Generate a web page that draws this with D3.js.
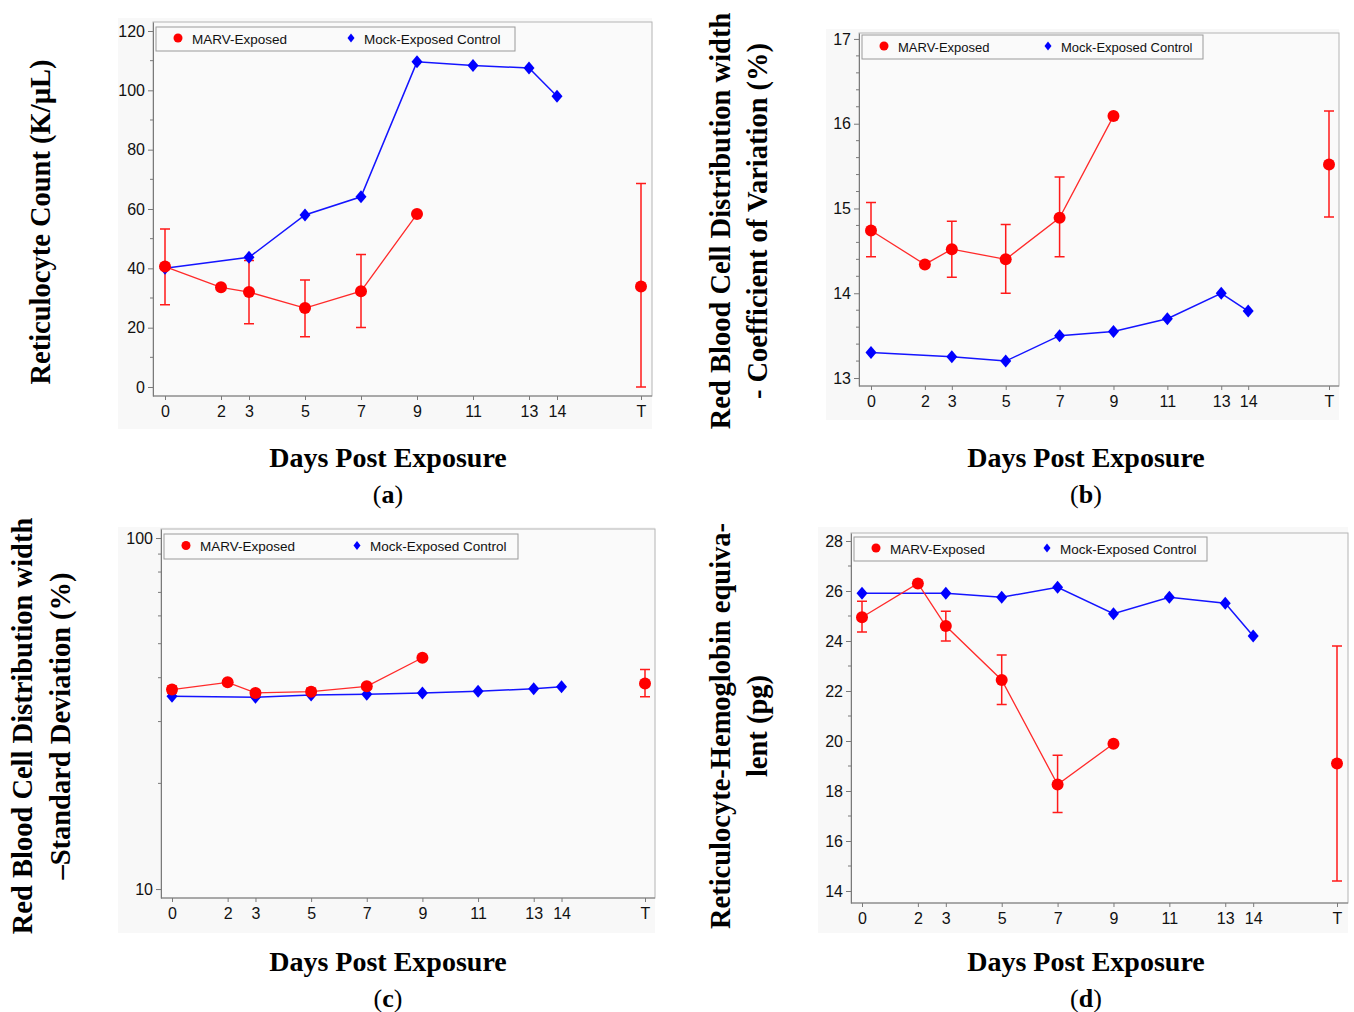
<!DOCTYPE html>
<html>
<head>
    <meta charset='utf-8'>
    <title>Reticulocyte and RDW panels</title>
    <style>
        body { margin: 0; background: #fff; }
        svg { display: block; }
    </style>
</head>
<body>
<svg width="1354" height="1012"></svg>
<script src="https://d3js.org/d3.v7.min.js"></script>
<script>
    // days on the x axis; "T" (terminal) sits at day 17
    const marvDays = [0, 2, 3, 5, 7, 9]
    const mockDays = [0, 3, 5, 7, 9, 11, 13, 14]
    const terminalDay = 17
    const xTickVals = [0, 2, 3, 5, 7, 9, 11, 13, 14, 17]
    const xTickText = ["0", "2", "3", "5", "7", "9", "11", "13", "14", "T"]
    const seriesNames = ["MARV-Exposed", "Mock-Exposed Control"]

    // (a) reticulocyte count
    const retMarv = [40.6, 33.6, 32.0, 26.6, 32.3, 58.3]
    const retMarvLo = [27.7, null, 21.3, 16.9, 20.1, null]
    const retMarvHi = [53.3, null, 42.6, 36.1, 44.7, null]
    const retTerm = [33.9, 0, 68.6]
    const retMock = [40.0, 43.7, 58.0, 64.1, 109.6, 108.4, 107.5, 98.0]

    // (b) RDW - coefficient of variation
    const cvMarv = [14.74, 14.34, 14.52, 14.40, 14.89, 16.09]
    const cvMarvLo = [14.43, null, 14.19, 14.00, 14.43, null]
    const cvMarvHi = [15.07, null, 14.85, 14.81, 15.37, null]
    const cvTerm = [15.52, 14.90, 16.15]
    const cvMock = [13.30, 13.25, 13.20, 13.50, 13.55, 13.70, 14.00, 13.79]

    // (c) RDW - standard deviation (log axis)
    const sdMarv = [37.0, 38.8, 36.2, 36.5, 37.8, 45.6]
    const sdMarvLo = [36.2, null, 35.6, 35.7, 37.2, null]
    const sdMarvHi = [37.8, null, 36.8, 37.3, 38.4, null]
    const sdTerm = [38.5, 35.3, 42.2]
    const sdMock = [35.4, 35.2, 35.7, 35.9, 36.2, 36.6, 37.2, 37.7]

    // (d) reticulocyte hemoglobin equivalent
    const chrMarv = [24.95, 26.30, 24.60, 22.44, 18.26, 19.89]
    const chrMarvLo = [24.36, null, 24.00, 21.46, 17.14, null]
    const chrMarvHi = [25.59, null, 25.19, 23.44, 19.43, null]
    const chrTerm = [19.10, 14.40, 23.80]
    const chrMock = [25.91, 25.91, 25.75, 26.15, 25.09, 25.75, 25.51, 24.20]

    const panels = [
        {
            id: "a", marv: retMarv, lo: retMarvLo, hi: retMarvHi, term: retTerm, mock: retMock,
            yTicks: [0, 20, 40, 60, 80, 100, 120], yMinor: d3.range(10, 120, 20),
            yDomain: [-3.03, 123.03], log: false,
            bg: [118, 18, 652, 429], frame: [153, 22, 652, 396], x0: 165, xT: 641,
            legend: [156, 27, 515, 51], legendBlue: 195, legendFont: 13.5,
            titleX: 388, titleY: 457, labelY: 494,
            yTitle: ["Reticulocyte Count (K/µL)"], yTitleX: [40], yTitleY: 222
        },
        {
            id: "b", marv: cvMarv, lo: cvMarvLo, hi: cvMarvHi, term: cvTerm, mock: cvMock,
            yTicks: [13, 14, 15, 16, 17], yMinor: d3.range(13, 17, 0.2).filter(v => Math.abs(v - Math.round(v)) > 0.01),
            yDomain: [12.906, 17.07], log: false,
            bg: [826, 29, 1339, 420], frame: [859, 33, 1339, 386], x0: 871, xT: 1329,
            legend: [862, 35, 1203, 59], legendBlue: 186, legendFont: 13,
            titleX: 1086, titleY: 457, labelY: 494,
            yTitle: ["Red Blood Cell Distribution width", "- Coefficient of Variation (%)"],
            yTitleX: [720, 757], yTitleY: 221
        },
        {
            id: "c", marv: sdMarv, lo: sdMarvLo, hi: sdMarvHi, term: sdTerm, mock: sdMock,
            yTicks: [10, 100], yMinor: d3.range(20, 100, 10),
            yDomain: [9.43, 106.1], log: true,
            bg: [118, 527, 655, 933], frame: [161, 529, 655, 898], x0: 172, xT: 645,
            legend: [164, 534, 518, 559], legendBlue: 193, legendFont: 13.5,
            titleX: 388, titleY: 961, labelY: 998,
            yTitle: ["Red Blood Cell Distribution width", "–Standard Deviation (%)"],
            yTitleX: [22, 60], yTitleY: 726
        },
        {
            id: "d", marv: chrMarv, lo: chrMarvLo, hi: chrMarvHi, term: chrTerm, mock: chrMock,
            yTicks: d3.range(14, 29, 2), yMinor: d3.range(15, 28, 2),
            yDomain: [13.52, 28.32], log: false,
            bg: [818, 527, 1348, 933], frame: [851, 533, 1348, 903], x0: 862, xT: 1337,
            legend: [854, 537, 1207, 561], legendBlue: 193, legendFont: 13.5,
            titleX: 1086, titleY: 961, labelY: 998,
            yTitle: ["Reticulocyte-Hemoglobin equiva-", "lent (pg)"],
            yTitleX: [720, 757], yTitleY: 726
        }
    ]

    const svg = d3.select("svg")
    const sans = "'Liberation Sans', Arial, sans-serif"
    const serif = "'Liberation Serif', 'Times New Roman', serif"
    const axisGray = "#7a7a7a"

    const diamond = (w, h) => `M0,${-h}L${w},0L0,${h}L${-w},0Z`

    const drawPanel = (p) => {
        const g = svg.append("g")
        const [fl, ft, fr, fb] = p.frame

        const x = d3.scaleLinear().domain([0, terminalDay]).range([p.x0, p.xT])
        const y = (p.log ? d3.scaleLog() : d3.scaleLinear()).domain(p.yDomain).range([fb, ft])

        g.append("rect")
            .attr("x", p.bg[0]).attr("y", p.bg[1])
            .attr("width", p.bg[2] - p.bg[0]).attr("height", p.bg[3] - p.bg[1])
            .attr("fill", "#f8f8f8")

        g.append("rect")
            .attr("x", fl).attr("y", ft)
            .attr("width", fr - fl).attr("height", fb - ft)
            .attr("fill", "#fafafa")
            .attr("stroke", "#b4b4b4")
            .attr("stroke-width", 1)

        // y axis
        const yAxis = g.append("g")
            .attr("transform", `translate(${fl},0)`)
            .call(d3.axisLeft(y).tickValues(p.yTicks).tickFormat(d3.format("d")).tickSize(5).tickPadding(3).tickSizeOuter(0))
        yAxis.select(".domain").attr("stroke", axisGray)
        yAxis.selectAll(".tick line").attr("stroke", axisGray)
        yAxis.selectAll("text").attr("font-family", sans).attr("font-size", 16).attr("fill", "#111")

        g.append("g")
            .selectAll("line")
            .data(p.yMinor)
            .join("line")
            .attr("x1", fl - 3).attr("x2", fl)
            .attr("y1", d => y(d)).attr("y2", d => y(d))
            .attr("stroke", axisGray)

        // x axis
        const xAxis = g.append("g")
            .attr("transform", `translate(0,${fb})`)
            .call(d3.axisBottom(x).tickValues(xTickVals).tickFormat((d, i) => xTickText[i]).tickSize(4).tickPadding(6).tickSizeOuter(0))
        xAxis.select(".domain").attr("d", `M${fl},0H${fr}`).attr("stroke", axisGray)
        xAxis.selectAll(".tick line").attr("stroke", axisGray)
        xAxis.selectAll("text").attr("font-family", sans).attr("font-size", 16).attr("fill", "#111")

        // error bars (MARV)
        const bars = marvDays.map((d, i) => ({day: d, lo: p.lo[i], hi: p.hi[i]}))
            .filter(b => b.lo !== null)
        bars.push({day: terminalDay, lo: p.term[1], hi: p.term[2]})

        const eb = g.append("g").attr("stroke", "#ff1a1a").attr("stroke-width", 1.5).attr("fill", "none")
        eb.selectAll("path")
            .data(bars)
            .join("path")
            .attr("d", b => {
                const cx = x(b.day), y1 = y(b.lo), y2 = y(b.hi)
                return `M${cx - 5},${y1}H${cx + 5}M${cx},${y1}V${y2}M${cx - 5},${y2}H${cx + 5}`
            })

        // lines
        const line = d3.line().x(d => x(d[0])).y(d => y(d[1]))
        const mockPts = mockDays.map((d, i) => [d, p.mock[i]])
        const marvPts = marvDays.map((d, i) => [d, p.marv[i]])

        g.append("path")
            .attr("d", line(mockPts))
            .attr("fill", "none")
            .attr("stroke", "#1414ff")
            .attr("stroke-width", 1.5)

        g.append("path")
            .attr("d", line(marvPts))
            .attr("fill", "none")
            .attr("stroke", "#ff2a2a")
            .attr("stroke-width", 1.3)

        g.append("g")
            .selectAll("path")
            .data(mockPts)
            .join("path")
            .attr("transform", d => `translate(${x(d[0])},${y(d[1])})`)
            .attr("d", diamond(5.5, 6.5))
            .attr("fill", "#0000ff")

        g.append("g")
            .selectAll("circle")
            .data(marvPts.concat([[terminalDay, p.term[0]]]))
            .join("circle")
            .attr("cx", d => x(d[0]))
            .attr("cy", d => y(d[1]))
            .attr("r", 6)
            .attr("fill", "#ff0000")

        // legend
        const [ll, lt, lr, lb] = p.legend
        const lg = g.append("g")
        lg.append("rect")
            .attr("x", ll).attr("y", lt)
            .attr("width", lr - ll).attr("height", lb - lt)
            .attr("fill", "#fafafa")
            .attr("stroke", "#9a9a9a")
        const ly = (lt + lb) / 2
        lg.append("circle").attr("cx", ll + 22).attr("cy", ly - 1).attr("r", 4.5).attr("fill", "#ff0000")
        lg.append("path").attr("transform", `translate(${ll + p.legendBlue},${ly - 1})`)
            .attr("d", diamond(3.5, 4.5)).attr("fill", "#0000ff")
        lg.selectAll("text")
            .data(seriesNames)
            .join("text")
            .attr("x", (d, i) => ll + (i === 0 ? 36 : p.legendBlue + 13))
            .attr("y", ly)
            .attr("dy", "0.35em")
            .attr("font-family", sans)
            .attr("font-size", p.legendFont)
            .attr("fill", "#111")
            .text(d => d)

        // titles
        g.append("text")
            .attr("x", p.titleX).attr("y", p.titleY)
            .attr("dy", "0.35em")
            .attr("text-anchor", "middle")
            .attr("font-family", serif)
            .attr("font-weight", "bold")
            .attr("font-size", 28)
            .text("Days Post Exposure")

        const lab = g.append("text")
            .attr("x", p.titleX).attr("y", p.labelY)
            .attr("dy", "0.35em")
            .attr("text-anchor", "middle")
            .attr("font-family", serif)
            .attr("font-size", 26)
        lab.append("tspan").text("(")
        lab.append("tspan").attr("font-weight", "bold").text(p.id)
        lab.append("tspan").text(")")

        p.yTitle.forEach((t, i) => {
            g.append("text")
                .attr("transform", `translate(${p.yTitleX[i]},${p.yTitleY}) rotate(-90)`)
                .attr("dy", "0.35em")
                .attr("text-anchor", "middle")
                .attr("font-family", serif)
                .attr("font-weight", "bold")
                .attr("font-size", 28.5)
                .text(t)
        })
    }

    panels.forEach(drawPanel)
</script>
</body>
</html>
